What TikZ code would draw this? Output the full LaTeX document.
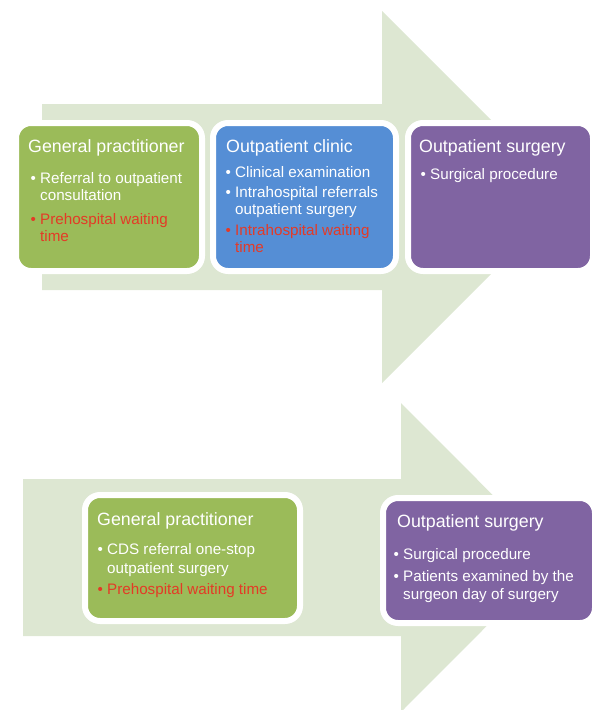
\documentclass[tikz,border=0pt]{standalone}
\usepackage{fontspec}
\setmainfont{Liberation Sans}
\usetikzlibrary{shadows}
\definecolor{arrowgreen}{RGB}{221,231,210}
\definecolor{gpgreen}{RGB}{155,187,89}
\definecolor{clinicblue}{RGB}{85,142,213}
\definecolor{surgpurple}{RGB}{128,100,162}
\definecolor{waitred}{RGB}{228,58,38}
\newcommand\bul{\strut\makebox[9.5pt][l]{\textbullet}}
\newcommand\cont{\hspace*{9.5pt}}
\begin{document}
\begin{tikzpicture}[x=1pt,y=-1pt,
  box/.style={draw=white,line width=6pt,rounded corners=15pt,inner sep=0pt,
    drop shadow={opacity=.15,shadow xshift=-1pt,shadow yshift=-2pt}},
  ttl/.style={anchor=base west,inner sep=0pt,text=white,font=\fontsize{17.8}{20}\selectfont},
  itm/.style={anchor=north west,inner sep=0pt,align=left,text=white,font=\fontsize{15.2}{17.5}\selectfont},
  wait/.style={itm,text=waitred}]
\useasboundingbox (0,0) rectangle (593,710);
% current pathway
\fill[arrowgreen] (42,104) -- (382,104) -- (382,11) -- (568,197) -- (382,383) -- (382,290) -- (42,290) -- cycle;
\node[box,fill=gpgreen,minimum width=186pt,minimum height=148pt] (gpA) at (109,197) {};
\node[box,fill=clinicblue,minimum width=183pt,minimum height=148pt] (clinic) at (304.5,197) {};
\node[box,fill=surgpurple,minimum width=185pt,minimum height=148pt] (surgA) at (500.5,197) {};
\node[ttl] (gpAt) at (28,152) {General practitioner};
\node[itm] (gpA1) at (30.5,170.75) {\bul Referral to outpatient\\\cont consultation};
\node[wait] (gpA2) at (30.5,211.75) {\bul Prehospital waiting\\\cont time};
\node[ttl] (clinict) at (226,152) {Outpatient clinic};
\node[itm] (clinic1) at (225.5,164.75) {\bul Clinical examination};
\node[itm] (clinic2) at (225.5,184.75) {\bul Intrahospital referrals\\\cont outpatient surgery};
\node[wait] (clinic3) at (225.5,222.75) {\bul Intrahospital waiting\\\cont time};
\node[ttl] (surgAt) at (419,152) {Outpatient surgery};
\node[itm] (surgA1) at (420.5,166.75) {\bul Surgical procedure};
% one-stop pathway
\fill[arrowgreen] (23,479) -- (401,479) -- (401,403) -- (555,557.5) -- (401,712) -- (401,636) -- (23,636) -- cycle;
\node[box,fill=gpgreen,minimum width=215pt,minimum height=126pt] (gpB) at (192.5,558) {};
\node[box,fill=surgpurple,minimum width=212pt,minimum height=125pt] (surgB) at (489,560.5) {};
\node[ttl] (gpBt) at (97,525) {General practitioner};
\node[itm] (gpB1) at (97.5,541.75) {\bul CDS referral one-stop\\[1.5pt]\cont outpatient surgery};
\node[wait] (gpB2) at (97.5,581.75) {\bul Prehospital waiting time};
\node[ttl] (surgBt) at (397,527) {Outpatient surgery};
\node[itm] (surgB1) at (393.5,546.75) {\bul Surgical procedure};
\node[itm] (surgB2) at (393.5,568.75) {\bul Patients examined by the\\[0.5pt]\cont surgeon day of surgery};
\end{tikzpicture}
\end{document}
